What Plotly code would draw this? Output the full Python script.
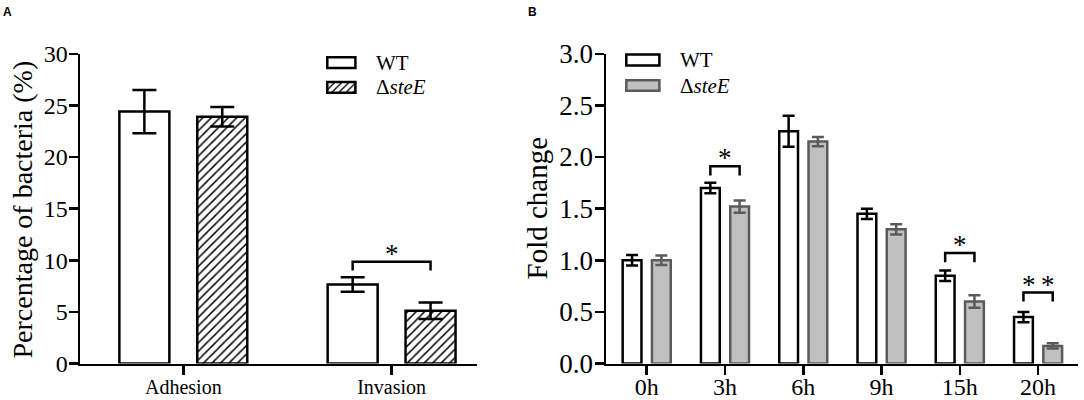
import plotly.graph_objects as go

# ---------------- data ----------------
A_categories = ["Adhesion", "Invasion"]
A_wt = [24.4, 7.65]
A_wt_err = [2.1, 0.7]
A_ko = [23.9, 5.1]
A_ko_err = [0.95, 0.8]
A_sig_index = [1]
A_sig_top = [9.85]
A_sig_bottom = [9.0]
A_sig_label = ["*"]

B_categories = ["0h", "3h", "6h", "9h", "15h", "20h"]
B_wt = [1.00, 1.70, 2.25, 1.45, 0.85, 0.45]
B_wt_err = [0.05, 0.05, 0.15, 0.05, 0.05, 0.05]
B_ko = [1.00, 1.52, 2.15, 1.30, 0.60, 0.17]
B_ko_err = [0.045, 0.06, 0.045, 0.05, 0.06, 0.025]
B_sig_index = [1, 4, 5]
B_sig_top = [1.91, 1.07, 0.687]
B_sig_bottom = [1.82, 0.98, 0.60]
B_sig_label = ["*", "*", "*\u2009*"]

A_ticks = [0, 5, 10, 15, 20, 25, 30]
B_ticks = [0.0, 0.5, 1.0, 1.5, 2.0, 2.5, 3.0]
series_names = ["WT", "Δ<i>steE</i>"]

# ---------------- style ----------------
W, H = 1084, 400
SERIF = "Liberation Serif, Times New Roman, serif"
LW = 2.5
GRAY_FILL = "#c0c0c0"
GRAY_LINE = "#5a5a5a"
BAR_W = 0.24
SHIFT = 0.187

def px_x(p):
    return p / W

def px_y(p):
    return 1 - p / H

y_dom = [px_y(363.5), px_y(53.8)]
xA_dom = [px_x(80), px_x(477)]
xB_dom = [px_x(606), px_x(1078)]

fig = go.Figure()

A_idx = list(range(len(A_categories)))
B_idx = list(range(len(B_categories)))

# manual legend swatches on a transparent pixel overlay axis (drawn first, underneath)
legend_boxes = [
    # (left, right, top, bottom, fill, line, pattern)
    (327.3, 355.4, 57.3, 68.0, "white", "black", None),
    (327.3, 355.4, 82.0, 92.7, "white", "black", "/"),
    (626.3, 659.4, 54.6, 65.4, "white", "black", None),
    (626.3, 659.4, 80.3, 90.7, GRAY_FILL, GRAY_LINE, None),
]
for (l, r, t, b, fc, lc, pat) in legend_boxes:
    marker = dict(color=fc, line=dict(color=lc, width=LW))
    if pat:
        marker["pattern"] = dict(shape=pat, size=5, solidity=0.28, fgcolor="black", bgcolor="white")
    fig.add_trace(go.Bar(x=[r - l], base=[l], y=[(t + b) / 2], width=[b - t], orientation="h",
                         xaxis="x3", yaxis="y3", marker=marker, showlegend=False, hoverinfo="skip"))

# Panel A bars
fig.add_trace(go.Bar(
    x=A_idx, y=A_wt, xaxis="x", yaxis="y", width=BAR_W, offset=-SHIFT - BAR_W / 2,
    marker=dict(color="white", line=dict(color="black", width=LW)),
    error_y=dict(type="data", array=A_wt_err, color="black", thickness=LW, width=12),
    showlegend=False))
fig.add_trace(go.Bar(
    x=A_idx, y=A_ko, xaxis="x", yaxis="y", width=BAR_W, offset=SHIFT - BAR_W / 2,
    marker=dict(color="white", line=dict(color="black", width=LW),
                pattern=dict(shape="/", size=6, solidity=0.25, fgcolor="black", bgcolor="white")),
    error_y=dict(type="data", array=A_ko_err, color="black", thickness=LW, width=12),
    showlegend=False))

# Panel B bars
fig.add_trace(go.Bar(
    x=B_idx, y=B_wt, xaxis="x2", yaxis="y2", width=BAR_W, offset=-SHIFT - BAR_W / 2,
    marker=dict(color="white", line=dict(color="black", width=LW)),
    error_y=dict(type="data", array=B_wt_err, color="black", thickness=LW, width=6),
    showlegend=False))
fig.add_trace(go.Bar(
    x=B_idx, y=B_ko, xaxis="x2", yaxis="y2", width=BAR_W, offset=SHIFT - BAR_W / 2,
    marker=dict(color=GRAY_FILL, line=dict(color=GRAY_LINE, width=LW)),
    error_y=dict(type="data", array=B_ko_err, color=GRAY_LINE, thickness=LW, width=6),
    showlegend=False))

# significance brackets
def bracket_xy(idx_list, tops, bottoms):
    xs, ys = [], []
    for i, t, b in zip(idx_list, tops, bottoms):
        xs += [i - SHIFT, i - SHIFT, i + SHIFT, i + SHIFT, None]
        ys += [b, t, t, b, None]
    return xs, ys

xa, ya = bracket_xy(A_sig_index, A_sig_top, A_sig_bottom)
fig.add_trace(go.Scatter(x=xa, y=ya, xaxis="x", yaxis="y", mode="lines",
                         line=dict(color="black", width=LW), showlegend=False, hoverinfo="skip"))
xb, yb = bracket_xy(B_sig_index, B_sig_top, B_sig_bottom)
fig.add_trace(go.Scatter(x=xb, y=yb, xaxis="x2", yaxis="y2", mode="lines",
                         line=dict(color="black", width=LW), showlegend=False, hoverinfo="skip"))

annotations = []
STAR_FONT = dict(family=SERIF, size=27, color="black")
for i, t, lab in zip(A_sig_index, A_sig_top, A_sig_label):
    annotations.append(dict(x=i, y=t, xref="x", yref="y", text=lab, showarrow=False,
                            yanchor="bottom", yshift=-9, font=STAR_FONT))
for i, t, lab in zip(B_sig_index, B_sig_top, B_sig_label):
    annotations.append(dict(x=i, y=t, xref="x2", yref="y2", text=lab, showarrow=False,
                            yanchor="bottom", yshift=-9, font=STAR_FONT))

legend_text = [
    (374, 62.7, series_names[0]), (374, 87.3, series_names[1]),
    (678, 60.0, series_names[0]), (678, 85.5, series_names[1]),
]
for (x, y, t) in legend_text:
    annotations.append(dict(x=px_x(x), y=px_y(y), xref="paper", yref="paper", text=t,
                            showarrow=False, xanchor="left", yanchor="middle",
                            font=dict(family=SERIF, size=21, color="black")))

# axis titles
annotations.append(dict(x=px_x(22), y=px_y(209.5), xref="paper", yref="paper",
                        text="Percentage of bacteria (%)", textangle=-90, showarrow=False,
                        xanchor="center", yanchor="middle",
                        font=dict(family=SERIF, size=28, color="black")))
annotations.append(dict(x=px_x(536), y=px_y(208.5), xref="paper", yref="paper",
                        text="Fold change", textangle=-90, showarrow=False,
                        xanchor="center", yanchor="middle",
                        font=dict(family=SERIF, size=29, color="black")))
# panel labels
annotations.append(dict(x=px_x(1), y=px_y(3), xref="paper", yref="paper", text="<b>A</b>",
                        showarrow=False, xanchor="left", yanchor="top",
                        font=dict(family="Liberation Sans", size=12, color="black")))
annotations.append(dict(x=px_x(526), y=px_y(3), xref="paper", yref="paper", text="<b>B</b>",
                        showarrow=False, xanchor="left", yanchor="top",
                        font=dict(family="Liberation Sans", size=12, color="black")))

axis_common = dict(showgrid=False, zeroline=False, showline=True, linecolor="black",
                   linewidth=LW, ticks="outside", ticklen=9, tickwidth=LW, tickcolor="black",
                   automargin=False)

fig.update_layout(
    template="none",
    width=W, height=H, autosize=False,
    margin=dict(l=0, r=0, t=0, b=0, pad=0),
    font=dict(family=SERIF, color="black"),
    paper_bgcolor="white", plot_bgcolor="rgba(0,0,0,0)",
    barmode="overlay", showlegend=False,
    xaxis=dict(domain=xA_dom, anchor="y", range=[-0.496, 1.41], tickvals=A_idx,
               ticktext=A_categories, tickfont=dict(family=SERIF, size=20, color="black"),
               ticklabelstandoff=-5, **axis_common),
    yaxis=dict(domain=y_dom, anchor="x", range=[0, 30], tickvals=A_ticks,
               tickfont=dict(family=SERIF, size=24, color="black"),
               ticklabelstandoff=-4, **axis_common),
    xaxis2=dict(domain=xB_dom, anchor="y2", range=[-0.52, 5.51], tickvals=B_idx,
                ticktext=B_categories, tickfont=dict(family=SERIF, size=24, color="black"),
                ticklabelstandoff=-9, **axis_common),
    yaxis2=dict(domain=y_dom, anchor="x2", range=[0, 3], tickvals=B_ticks,
                tickformat=".1f", tickfont=dict(family=SERIF, size=27, color="black"),
                ticklabelstandoff=-4, **axis_common),
    xaxis3=dict(domain=[0, 1], range=[0, W], visible=False, anchor="y3", fixedrange=True,
                automargin=False),
    yaxis3=dict(domain=[0, 1], range=[H, 0], visible=False, anchor="x3", fixedrange=True,
                automargin=False),
    annotations=annotations,
)

fig.write_html("out.html",
               config={"displayModeBar": False, "staticPlot": True},
               post_script="document.body.style.margin='0';document.body.style.padding='0';"
                           "document.documentElement.style.overflow='hidden';")
